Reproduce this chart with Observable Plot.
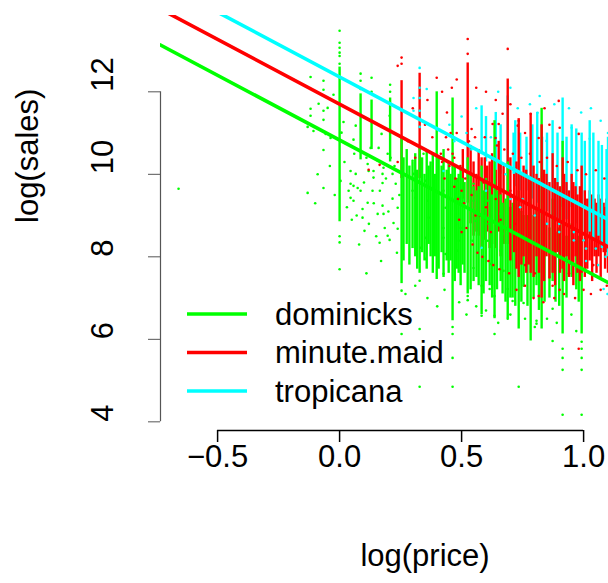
<!DOCTYPE html>
<html><head><meta charset="utf-8">
<script src="https://cdn.jsdelivr.net/npm/d3@7"></script>
<script src="https://cdn.jsdelivr.net/npm/@observablehq/plot@0.6"></script>
<style>
body{margin:0;background:#fff;}
#wrap{position:relative;width:608px;height:583px;overflow:hidden;font-family:"Liberation Sans",Arial,sans-serif;}
#legend{position:absolute;left:0;top:0;}
</style></head><body><div id="wrap"></div>
<script>
const brands = ["dominicks", "minute.maid", "tropicana"];
const brandColors = ["#00ff00", "#ff0000", "#00ffff"];
const intercepts = [10.83, 11.70, 12.36];
const slope = -3.14;
const xTicks = [-0.5, 0.0, 0.5, 1.0];
const yTicks = [4, 6, 8, 10, 12];
const xDomain = [-0.734, 1.434];
const yDomain = [3.79, 13.85];

// dense vertical strips of points: [log price, top log sales, bottom log sales]
const domStrips = [
  [0.000, 12.60, 8.85], [0.086, 11.95, 10.35], [0.131, 11.80, 10.60], [0.207, 11.85, 10.30],
  [0.254, 10.90, 7.35], [0.262, 10.40, 7.90], [0.275, 10.60, 8.30], [0.286, 10.20, 7.80],
  [0.299, 10.30, 8.20], [0.310, 10.50, 8.00], [0.318, 10.10, 7.70], [0.328, 10.70, 7.60],
  [0.338, 10.40, 8.10], [0.348, 10.00, 7.90], [0.357, 10.60, 7.70], [0.365, 10.20, 8.30],
  [0.373, 10.30, 8.00], [0.382, 10.50, 7.60], [0.390, 10.00, 8.00], [0.398, 12.00, 7.45],
  [0.406, 10.40, 7.70], [0.418, 10.20, 8.10], [0.426, 10.60, 7.50], [0.439, 10.10, 7.90],
  [0.447, 10.30, 7.60], [0.455, 10.00, 7.90], [0.463, 11.85, 6.45], [0.472, 10.20, 7.40],
  [0.480, 9.90, 7.70], [0.488, 10.00, 7.60], [0.496, 10.10, 7.30], [0.504, 9.90, 7.80],
  [0.512, 9.80, 7.60], [0.525, 10.40, 7.10], [0.537, 10.00, 7.20], [0.549, 9.70, 7.40],
  [0.561, 9.60, 7.50], [0.570, 9.70, 7.30], [0.582, 10.20, 6.60], [0.590, 9.60, 7.10],
  [0.600, 9.90, 7.40], [0.615, 9.80, 7.30], [0.625, 9.50, 7.00], [0.635, 11.30, 6.50],
  [0.645, 9.60, 7.20], [0.660, 9.50, 7.40], [0.668, 9.30, 7.10], [0.680, 9.40, 6.90],
  [0.689, 10.30, 6.50], [0.700, 9.20, 7.00], [0.709, 9.30, 7.00], [0.720, 9.40, 6.80],
  [0.734, 9.60, 6.25], [0.745, 9.10, 6.90], [0.754, 9.00, 7.30], [0.770, 9.00, 6.80],
  [0.783, 9.80, 5.96], [0.795, 9.00, 7.00], [0.807, 9.20, 7.30], [0.817, 8.90, 6.70],
  [0.828, 11.60, 6.25], [0.840, 8.80, 6.90], [0.860, 8.70, 7.00], [0.873, 9.40, 7.40],
  [0.885, 8.60, 6.90], [0.900, 8.70, 6.80], [0.914, 10.80, 6.13], [0.930, 8.50, 7.00],
  [0.951, 8.80, 7.50], [0.970, 8.40, 7.20], [0.980, 8.50, 6.90], [0.992, 9.20, 6.13]
];
const mmStrips = [
  [0.254, 12.27, 9.90], [0.328, 12.45, 9.90], [0.505, 10.60, 9.40], [0.525, 12.70, 9.30],
  [0.537, 10.70, 8.80], [0.549, 10.30, 8.50], [0.561, 10.00, 8.60], [0.570, 10.60, 8.50],
  [0.582, 10.40, 8.20], [0.595, 10.40, 8.40], [0.605, 10.20, 8.60], [0.615, 10.30, 8.20],
  [0.625, 10.50, 8.30], [0.640, 10.10, 8.20], [0.652, 10.80, 8.60], [0.660, 10.30, 8.00],
  [0.672, 10.20, 8.30], [0.689, 12.31, 8.30], [0.700, 10.40, 7.90], [0.715, 10.00, 8.10],
  [0.725, 10.30, 7.70], [0.734, 11.35, 7.50], [0.745, 10.00, 7.80], [0.754, 10.20, 8.00],
  [0.765, 10.10, 7.60], [0.775, 9.90, 7.80], [0.783, 11.47, 7.60], [0.795, 10.20, 7.50],
  [0.807, 10.00, 8.00], [0.817, 9.90, 7.60], [0.828, 11.20, 7.00], [0.838, 10.10, 7.40],
  [0.848, 10.00, 8.00], [0.860, 9.80, 7.50], [0.873, 10.50, 7.60], [0.883, 9.90, 7.30],
  [0.893, 9.80, 8.10], [0.903, 9.70, 7.60], [0.914, 10.40, 7.70], [0.920, 10.00, 7.40],
  [0.930, 9.80, 8.00], [0.940, 9.60, 7.50], [0.951, 10.00, 7.80], [0.958, 9.80, 7.30],
  [0.967, 9.70, 8.00], [0.975, 9.50, 7.60], [0.985, 9.70, 7.40], [0.992, 10.20, 7.60],
  [1.005, 9.60, 7.50], [1.015, 9.40, 7.70], [1.025, 9.60, 7.90], [1.035, 9.50, 7.40],
  [1.045, 9.40, 8.00], [1.053, 9.30, 7.60], [1.061, 9.50, 8.00], [1.070, 9.40, 7.50],
  [1.082, 9.30, 8.10], [1.088, 9.20, 7.70], [1.094, 9.40, 8.10], [1.100, 9.30, 7.60]
];
const tropStrips = [
  [0.582, 11.66, 10.50], [0.600, 11.40, 10.30], [0.640, 11.50, 10.10], [0.660, 11.20, 10.00],
  [0.689, 11.90, 10.30], [0.713, 11.00, 10.00], [0.720, 11.30, 9.70], [0.740, 11.00, 9.60],
  [0.766, 10.90, 9.60], [0.790, 11.20, 9.40], [0.810, 11.50, 9.30], [0.830, 10.90, 9.30],
  [0.850, 11.00, 9.10], [0.873, 11.30, 9.00], [0.893, 11.00, 8.90], [0.914, 11.85, 9.20],
  [0.930, 10.90, 8.90], [0.951, 11.20, 9.20], [0.970, 11.10, 8.80], [0.992, 11.00, 8.70],
  [1.005, 10.80, 8.60], [1.025, 11.30, 8.60], [1.040, 11.00, 8.40], [1.061, 10.80, 8.50],
  [1.075, 10.70, 8.20], [1.094, 10.60, 8.30], [1.100, 10.90, 8.00]
];

// isolated points: [log price, log sales]
const domPoints = [
  [-0.660, 9.65],
  [0.000, 13.48], [0.000, 13.19], [0.000, 13.07], [0.000, 12.95], [0.000, 12.87], [0.000, 12.68],
  [0.000, 8.50], [0.000, 8.35], [0.000, 7.70], [0.000, 5.54],
  [0.086, 12.44], [0.086, 12.27], [0.086, 12.07], [0.131, 12.34], [0.131, 12.00],
  [0.207, 12.17], [0.207, 12.00], [0.254, 7.18], [0.254, 6.13],
  [0.328, 6.25], [0.328, 4.85], [0.328, 7.42], [0.463, 6.13], [0.463, 5.55], [0.463, 4.85], [0.463, 6.30],
  [0.525, 7.05], [0.525, 6.95], [0.582, 6.57], [0.582, 7.30], [0.615, 7.22],
  [0.635, 6.13], [0.635, 6.57], [0.635, 7.05], [0.689, 6.50], [0.689, 7.22], [0.734, 4.85],
  [0.709, 6.93], [0.754, 7.30], [0.754, 6.88], [0.807, 6.45], [0.807, 6.38],
  [0.873, 6.74], [0.873, 5.96], [0.914, 5.77], [0.914, 5.55], [0.914, 5.26], [0.914, 4.17],
  [0.992, 5.94], [0.992, 5.77], [0.992, 5.55], [0.992, 5.26], [0.992, 4.17],
  [-0.119, 12.36], [-0.066, 12.27], [-0.066, 12.05], [-0.086, 11.71], [-0.049, 11.61],
  [-0.119, 11.59], [-0.119, 11.42], [-0.066, 11.54], [-0.066, 11.32], [-0.025, 11.93],
  [0.016, 11.27], [0.008, 11.01], [0.057, 10.84], [0.066, 11.18], [0.172, 10.98], [0.205, 11.42],
  [-0.131, 11.15], [-0.107, 11.05], [-0.057, 10.98], [-0.037, 10.88], [-0.131, 9.55],
  [-0.066, 10.59], [-0.066, 9.67], [0.045, 10.08], [0.045, 9.77], [0.037, 9.60], [0.057, 9.72],
  [0.074, 9.67], [0.086, 9.60], [0.045, 9.43], [0.057, 9.36], [0.094, 9.16], [0.094, 8.95],
  [0.102, 8.63], [0.115, 9.31], [0.135, 9.60], [0.139, 9.92], [0.156, 10.33], [0.176, 9.79],
  [0.176, 9.24], [0.164, 8.34], [0.156, 9.04], [0.180, 9.04], [0.197, 10.50], [0.197, 8.51],
  [0.205, 8.41], [0.217, 9.41], [0.221, 8.82], [0.230, 9.77], [0.127, 10.64], [0.160, 10.64],
  [0.115, 10.25], [0.119, 10.08], [0.139, 10.08], [0.004, 9.84], [0.066, 10.01], [0.238, 9.19],
  [0.238, 8.68], [0.217, 10.01], [0.180, 10.16], [0.176, 10.01], [0.209, 10.40],
  [0.020, 10.30], [0.030, 9.20], [0.050, 8.90], [0.060, 10.50], [0.070, 9.00], [0.080, 8.30],
  [0.100, 9.80], [0.110, 10.40], [0.120, 8.80], [0.140, 9.30], [0.150, 8.50], [0.165, 9.60],
  [0.185, 8.70], [0.190, 9.90], [0.200, 9.10], [0.225, 10.20], [0.235, 8.10], [0.245, 9.50],
  [0.170, 7.90], [0.110, 7.60], [-0.020, 9.50], [-0.040, 10.20], [-0.090, 10.00], [-0.100, 9.30],
  [0.299, 10.33], [0.303, 10.01], [0.299, 9.60], [0.311, 9.43], [0.344, 10.50], [0.352, 9.84],
  [0.361, 9.36], [0.365, 8.95], [0.352, 8.46], [0.352, 7.95], [0.332, 8.22], [0.426, 9.60],
  [0.434, 9.19], [0.426, 8.70], [0.426, 8.46], [0.434, 8.07], [0.426, 7.59], [0.484, 9.84],
  [0.488, 9.43], [0.496, 8.70], [0.488, 8.39], [0.484, 8.15], [0.549, 9.77], [0.549, 9.36],
  [0.557, 8.87], [0.545, 8.39], [0.549, 7.73], [0.607, 9.36], [0.611, 8.80], [0.607, 8.39],
  [0.619, 7.83], [0.660, 9.04], [0.668, 8.56], [0.660, 8.15], [0.672, 7.66],
  [0.270, 7.10], [0.310, 7.30], [0.360, 7.00], [0.400, 6.80], [0.430, 7.20], [0.490, 6.90],
  [0.520, 6.60], [0.560, 6.80], [0.600, 6.70], [0.650, 6.40], [0.700, 6.60], [0.760, 6.50],
  [0.800, 6.30], [0.850, 6.50], [0.890, 6.40], [0.950, 6.60], [0.970, 6.20]
];
const mmPoints = [
  [0.254, 12.83], [0.254, 12.68], [0.238, 12.63], [0.398, 12.34], [0.525, 13.28], [0.525, 12.92],
  [0.689, 13.04], [0.668, 11.47], [0.652, 11.22], [0.541, 11.10], [0.627, 11.22], [0.639, 10.88],
  [0.734, 11.30], [0.783, 11.47], [0.898, 11.78], [0.902, 11.13], [0.980, 10.98], [0.816, 10.88],
  [0.730, 11.18], [0.119, 10.11], [0.164, 10.23], [0.238, 10.30], [0.873, 7.30], [0.816, 7.05],
  [0.902, 7.20], [0.980, 5.77], [0.541, 9.50], [0.557, 9.00], [0.590, 9.80], [0.600, 9.20],
  [0.620, 8.60], [0.640, 9.40], [0.660, 8.90], [0.700, 9.60], [0.720, 8.80], [0.760, 7.80],
  [0.800, 7.60], [0.860, 7.50], [0.940, 7.60], [1.000, 7.70], [1.040, 7.80], [0.430, 9.90],
  [0.450, 10.20], [0.470, 9.70], [0.500, 9.60],
  [0.440, 11.50], [0.445, 10.60], [0.455, 11.00], [0.470, 10.40], [0.475, 9.90], [0.485, 9.40],
  [0.490, 8.90], [0.500, 8.60], [0.510, 9.30], [0.520, 8.70], [0.530, 10.80], [0.545, 8.30],
  [0.555, 10.90], [0.565, 8.10], [0.575, 9.00], [0.585, 8.00], [0.595, 10.90], [0.610, 7.90],
  [0.630, 7.80], [0.645, 10.70], [0.655, 7.70], [0.675, 10.60], [0.695, 7.60], [0.710, 10.50],
  [0.725, 7.20], [0.745, 10.40], [0.760, 7.30], [0.780, 10.50], [0.795, 7.00], [0.820, 10.30],
  [0.835, 6.90], [0.850, 10.40], [0.880, 7.00], [0.890, 10.20], [0.920, 7.10], [0.935, 10.30],
  [0.965, 7.00], [0.975, 10.10], [1.000, 7.20], [1.010, 10.00], [1.030, 7.10], [1.050, 10.10],
  [1.070, 7.20], [1.085, 9.90], [1.095, 7.30], [0.600, 12.00], [0.560, 12.10], [0.480, 12.30],
  [0.420, 12.00], [0.350, 11.20], [0.300, 11.60], [0.280, 10.80], [0.310, 10.40], [0.380, 10.90],
  [0.360, 11.80], [0.400, 11.10], [0.415, 10.50], [0.460, 12.10], [0.640, 11.80], [0.700, 11.70],
  [0.760, 11.00], [0.860, 11.20], [0.840, 11.60], [0.436, 10.90], [0.463, 10.50], [0.480, 11.00],
  [0.495, 10.20], [0.515, 9.90], [0.420, 10.30]
];
const tropPoints = [
  [0.328, 12.58], [0.328, 12.10], [0.328, 11.85], [0.328, 11.54], [0.328, 11.15], [0.357, 12.07],
  [0.303, 11.85], [0.303, 11.54], [0.426, 10.08], [0.582, 8.22], [0.811, 11.49], [0.848, 10.81],
  [0.951, 11.13], [1.025, 10.86], [1.082, 7.22], [1.098, 7.10], [0.600, 9.60], [0.700, 9.40],
  [0.740, 9.20], [0.800, 9.00], [0.850, 8.80], [0.900, 8.60], [0.960, 8.40], [1.010, 8.20],
  [0.450, 11.20], [0.470, 10.80], [0.500, 11.40], [0.520, 11.00], [0.540, 10.60], [0.560, 11.60],
  [0.620, 10.90], [0.650, 12.00], [0.680, 10.00], [0.700, 12.10], [0.730, 11.60], [0.750, 9.40],
  [0.780, 11.70], [0.800, 9.20], [0.820, 11.90], [0.860, 9.00], [0.880, 11.70], [0.900, 8.80],
  [0.940, 11.60], [0.960, 8.60], [0.990, 11.50], [1.000, 8.40], [1.030, 11.60], [1.050, 8.20],
  [1.070, 11.30], [1.090, 8.00], [1.100, 11.00], [1.060, 7.80], [1.010, 7.90]
];

const stripSets = [domStrips, mmStrips, tropStrips];
const pointSets = [domPoints, mmPoints, tropPoints];
// drawing layers: [brand index, lowest log price, highest log price]
const stripLayers = [[2, -1, 1.02], [1, -1, 0.70], [0, -1, 2], [1, 0.70, 2], [2, 1.02, 2]];
const strips = stripLayers.flatMap(([i, lo, hi]) => stripSets[i]
  .filter(([x]) => x >= lo && x < hi)
  .map(([x, y2, y1]) => ({brand: brands[i], x, y1, y2})));
const points = [0, 2, 1].flatMap(i => pointSets[i].map(([x, y]) => ({brand: brands[i], x, y})));
const fitLines = brands.flatMap((b, i) => xDomain.map(x => ({brand: b, x, y: intercepts[i] + slope * x})));

const font = "Liberation Sans, Arial, Helvetica, sans-serif";
const fs = 31;
const chart = Plot.plot({
  width: 608, height: 583,
  marginLeft: 160, marginRight: 0, marginTop: 15, marginBottom: 153,
  style: {fontFamily: font, fontSize: fs + "px", background: "white", overflow: "visible"},
  x: {domain: xDomain, range: [160, 689], axis: null},
  y: {domain: yDomain, axis: null},
  color: {domain: brands, range: brandColors},
  marks: [
    Plot.ruleX(strips, {x: "x", y1: "y1", y2: "y2", stroke: "brand", strokeWidth: 2.4}),
    Plot.dot(points, {x: "x", y: "y", fill: "brand", r: 1.3}),
    Plot.line(fitLines, {x: "x", y: "y", z: "brand", stroke: "brand", strokeWidth: 3.6, clip: true}),
    // x axis
    Plot.ruleY([yDomain[0]], {x1: xTicks[0], x2: xTicks[xTicks.length - 1], stroke: "black", strokeWidth: 1.5}),
    Plot.axisX({ticks: xTicks, tickSize: 12, tickFormat: () => "", anchor: "bottom", label: null, strokeWidth: 1.5}),
    Plot.text(xTicks, {x: d => d, frameAnchor: "bottom", dy: 36, fontSize: fs,
      text: d => (d < 0 ? "\u2212" : "") + Math.abs(d).toFixed(1)}),
    // y axis
    Plot.ruleX([xDomain[0]], {y1: yTicks[0], y2: yTicks[yTicks.length - 1], stroke: "#555", strokeWidth: 1.2}),
    Plot.axisY({ticks: yTicks, tickSize: 12, tickFormat: () => "", anchor: "left", label: null, stroke: "#555"}),
    Plot.text(yTicks, {y: d => d, frameAnchor: "left", dx: -57, rotate: -90, fontSize: fs, text: d => String(d)}),
    // axis titles
    Plot.text(["log(price)"], {x: [(xDomain[0] + xDomain[1]) / 2], frameAnchor: "bottom", dy: 135, fontSize: fs}),
    Plot.text(["log(sales)"], {frameAnchor: "left", dx: -132, rotate: -90, fontSize: fs})
  ]
});
const wrap = document.getElementById("wrap");
wrap.appendChild(chart);

// legend (R legend, no box)
const ns = "http://www.w3.org/2000/svg";
const leg = document.createElementNS(ns, "svg");
leg.setAttribute("id", "legend");
leg.setAttribute("width", 608);
leg.setAttribute("height", 583);
brands.forEach((b, i) => {
  const yy = 314 + i * 38.5;
  const ln = document.createElementNS(ns, "line");
  ln.setAttribute("x1", 187); ln.setAttribute("x2", 247);
  ln.setAttribute("y1", yy); ln.setAttribute("y2", yy);
  ln.setAttribute("stroke", brandColors[i]); ln.setAttribute("stroke-width", 3.6);
  leg.appendChild(ln);
  const tx = document.createElementNS(ns, "text");
  tx.setAttribute("x", 275); tx.setAttribute("y", yy);
  tx.setAttribute("dy", "0.35em");
  tx.setAttribute("font-family", font);
  tx.setAttribute("font-size", fs);
  tx.textContent = b;
  leg.appendChild(tx);
});
wrap.appendChild(leg);
</script></body></html>
